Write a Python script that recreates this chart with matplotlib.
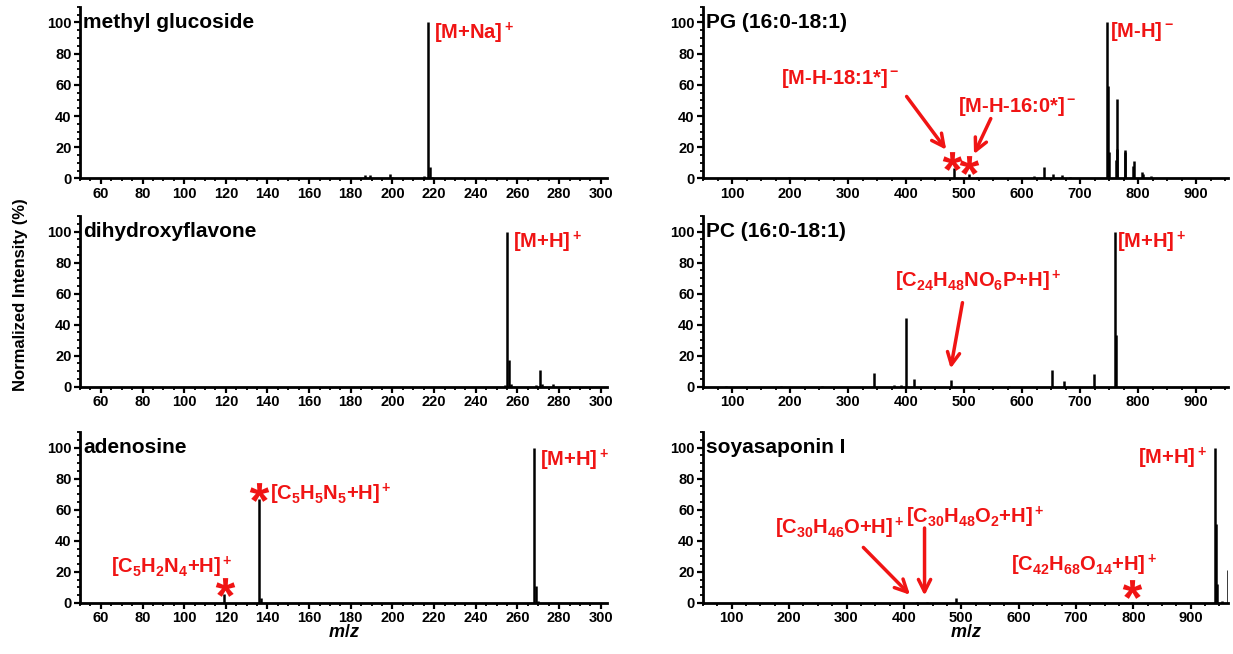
import matplotlib
matplotlib.use('Agg')
import matplotlib.pyplot as plt
from matplotlib.ticker import MultipleLocator
from matplotlib.transforms import blended_transform_factory

plt.rcParams['font.family'] = ['Liberation Sans', 'DejaVu Sans']
plt.rcParams['font.weight'] = 'bold'
plt.rcParams['mathtext.fontset'] = 'custom'
plt.rcParams['mathtext.rm'] = 'Liberation Sans:bold'
plt.rcParams['mathtext.bf'] = 'Liberation Sans:bold'
plt.rcParams['mathtext.it'] = 'Liberation Sans:bold:italic'
plt.rcParams['mathtext.default'] = 'bf'

RED = '#f01414'

# peak lists (m/z, normalized intensity %)
mg_mz = [127, 157, 187, 189, 199, 200, 215, 217, 218, 219]
mg_int = [0.5, 0.4, 2.0, 2.5, 3.0, 0.8, 1.5, 100, 7.5, 1.0]

dhf_mz = [254, 255, 256, 257, 269, 271, 272, 277]
dhf_int = [0.8, 100, 17, 1.5, 1.0, 11, 1.5, 1.5]

ade_mz = [119, 136, 137, 268, 269, 270]
ade_int = [6, 67, 3, 100, 11, 1]

pg_mz = [199, 483, 509, 523, 621, 637, 653, 669, 683, 747, 748, 749, 762, 763, 764,
         777, 778, 791, 793, 807, 809, 823, 837]
pg_int = [0.8, 6.5, 3, 1.2, 1.5, 7.5, 3, 2, 0.8, 100, 59, 17, 12, 51, 19,
          18, 17, 8, 11, 4, 3, 1.5, 0.6]

pc_mz = [90, 184, 255, 344, 380, 392, 400, 413, 478, 578, 651, 672, 724, 760, 761]
pc_int = [0.6, 0.5, 0.4, 8.6, 0.8, 1.0, 44.5, 5, 4.5, 0.6, 11, 3.5, 8, 100, 33.5]

soy_mz = [423, 441, 491, 797, 943, 944, 945, 955, 965, 966]
soy_int = [0.8, 0.8, 3, 0.8, 100, 51, 12, 1.5, 21, 5]

fig = plt.figure(figsize=(12.33, 6.54), dpi=100)

lx, lw = 0.0649, 0.4274
rx, rw = 0.5702, 0.4258
rows = [(0.7271, 0.2624), (0.4087, 0.2607), (0.0780, 0.2615)]

def make_ax(x0, w, row, xlim, major, minor, title):
    y0, h = rows[row]
    ax = fig.add_axes([x0, y0, w, h])
    ax.set_xlim(*xlim)
    ax.set_ylim(0, 110)
    ax.spines['top'].set_visible(False)
    ax.spines['right'].set_visible(False)
    ax.spines['left'].set_linewidth(2)
    ax.spines['bottom'].set_linewidth(2)
    ax.xaxis.set_major_locator(MultipleLocator(major))
    ax.xaxis.set_minor_locator(MultipleLocator(minor))
    ax.set_yticks([0, 20, 40, 60, 80, 100])
    ax.yaxis.set_minor_locator(MultipleLocator(5))
    ax.tick_params(which='major', direction='out', length=4.5, width=1.6,
                   labelsize=10.5, pad=1.5)
    ax.tick_params(which='minor', direction='out', length=2.5, width=1.3)
    for lab in ax.get_xticklabels() + ax.get_yticklabels():
        lab.set_fontweight('bold')
    tr = blended_transform_factory(ax.transAxes, ax.transData)
    ax.text(0.006, 100, title, transform=tr, fontsize=15, fontweight='bold',
            va='center', ha='left')
    return ax

def spectrum(ax, mz, inten):
    ax.vlines(mz, 0, inten, colors='black', linewidth=1.8)

def label(ax, x, y, s, ha='left', size=14.5):
    ax.text(x, y, s, color=RED, fontsize=size, fontweight='bold', ha=ha, va='center')

def star(ax, x, y):
    # asterisk drawn as a marker so it sits exactly over the peak
    ax.plot([x], [y], marker='$*$', color=RED, markersize=14,
            markeredgewidth=0, clip_on=False)

def arrow(ax, xy_tail, xy_head):
    ax.annotate('', xy=xy_head, xytext=xy_tail,
                arrowprops=dict(arrowstyle='->', color=RED, lw=2.5,
                                mutation_scale=22))

# methyl glucoside
ax1 = make_ax(lx, lw, 0, (50, 303), 20, 5, 'methyl glucoside')
spectrum(ax1, mg_mz, mg_int)
label(ax1, 220, 93, r'[M+Na]$^+$')

# dihydroxyflavone
ax2 = make_ax(lx, lw, 1, (50, 303), 20, 5, 'dihydroxyflavone')
spectrum(ax2, dhf_mz, dhf_int)
label(ax2, 258, 93, r'[M+H]$^+$')

# adenosine
ax3 = make_ax(lx, lw, 2, (50, 303), 20, 5, 'adenosine')
spectrum(ax3, ade_mz, ade_int)
label(ax3, 271, 92, r'[M+H]$^+$')
star(ax3, ade_mz[0] + 0.5, ade_int[0] + 4.5)
label(ax3, 94, 23, r'[C$_5$H$_2$N$_4$+H]$^+$', ha='center')
star(ax3, ade_mz[1], ade_int[1] + 4.5)
label(ax3, 141, 70, r'[C$_5$H$_5$N$_5$+H]$^+$')

# PG
ax4 = make_ax(rx, rw, 0, (50, 955), 100, 25, 'PG (16:0-18:1)')
spectrum(ax4, pg_mz, pg_int)
label(ax4, 752, 94, r'[M-H]$^-$')
label(ax4, 286, 64, r'[M-H-18:1*]$^-$', ha='center')
label(ax4, 591, 46, r'[M-H-16:0*]$^-$', ha='center')
star(ax4, pg_mz[1] - 4, pg_int[1] + 4.5)
star(ax4, pg_mz[2] - 1, pg_int[2] + 5.5)
arrow(ax4, (398, 54), (472, 17))
arrow(ax4, (548, 40), (515, 14))

# PC
ax5 = make_ax(rx, rw, 1, (50, 955), 100, 25, 'PC (16:0-18:1)')
spectrum(ax5, pc_mz, pc_int)
label(ax5, 763, 93, r'[M+H]$^+$')
label(ax5, 524, 68, r'[C$_{24}$H$_{48}$NO$_6$P+H]$^+$', ha='center')
arrow(ax5, (498, 56), (476, 10))

# soyasaponin I
ax6 = make_ax(rx, rw, 2, (50, 965), 100, 25, 'soyasaponin I')
spectrum(ax6, soy_mz, soy_int)
label(ax6, 928, 93, r'[M+H]$^+$', ha='right')
label(ax6, 288, 48, r'[C$_{30}$H$_{46}$O+H]$^+$', ha='center')
label(ax6, 524, 55, r'[C$_{30}$H$_{48}$O$_2$+H]$^+$', ha='center')
label(ax6, 714, 24, r'[C$_{42}$H$_{68}$O$_{14}$+H]$^+$', ha='center')
star(ax6, soy_mz[3], soy_int[3] + 8.5)
arrow(ax6, (326, 37), (414, 4))
arrow(ax6, (436, 50), (436, 3))

fig.text(0.017, 0.549, 'Normalized Intensity (%)', rotation=90, fontsize=12,
         fontweight='bold', ha='center', va='center')
fig.text(lx + lw * 0.5, 0.033, '$\\mathit{m/z}$', fontsize=13, ha='center', va='center')
fig.text(rx + rw * 0.5, 0.033, '$\\mathit{m/z}$', fontsize=13, ha='center', va='center')

fig.savefig('out.png', dpi=100)
